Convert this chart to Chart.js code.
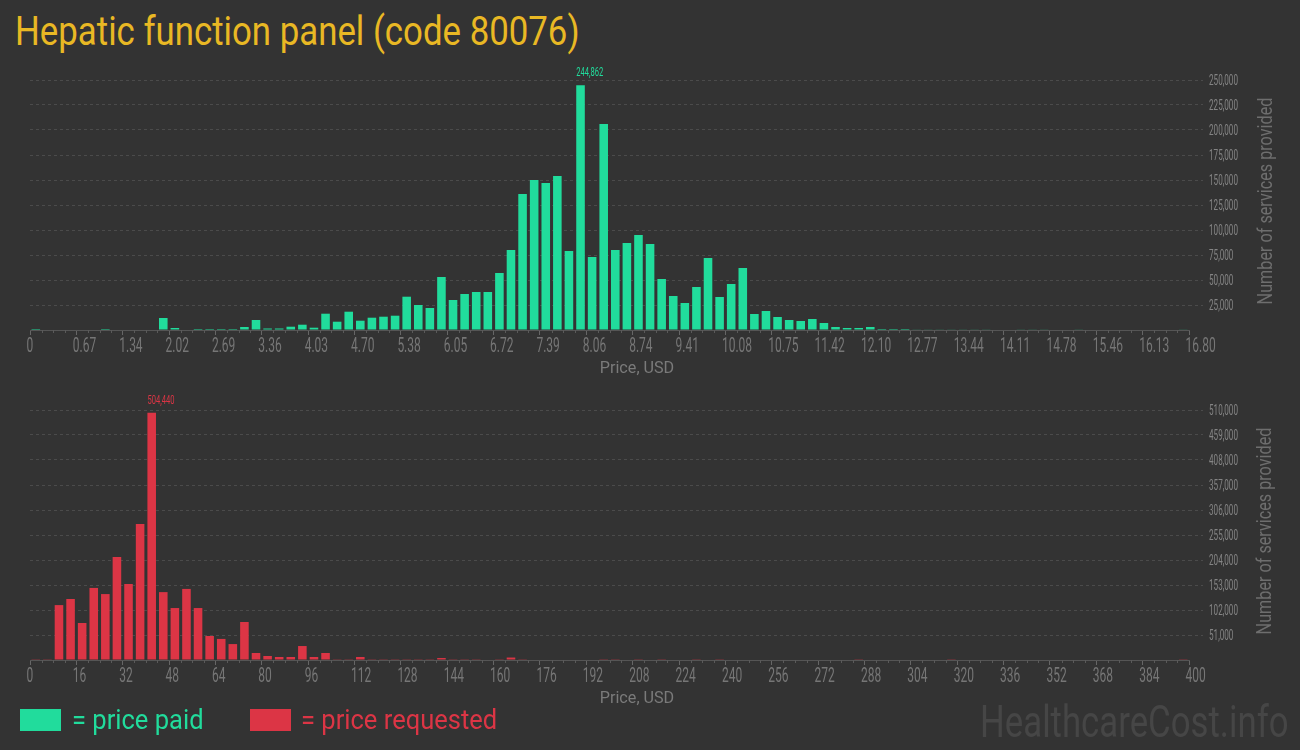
<!DOCTYPE html>
<html>
<head>
<meta charset="utf-8">
<script src="https://cdn.jsdelivr.net/npm/chart.js@4.4.1/dist/chart.umd.min.js"></script>
<style>
  html,body{margin:0;padding:0;background:#333333;}
  body{width:1300px;height:750px;overflow:hidden;position:relative;font-family:Roboto,"Noto Sans",sans-serif;}
  canvas{position:absolute;left:0;}
  .abs{position:absolute;white-space:nowrap;}
  #title{left:15px;top:8px;font-size:40px;color:#e9b824;transform:scaleX(0.87);transform-origin:0 0;}
  .xt{font-size:17px;color:#7a7a7a;transform:translateX(-50%) scaleX(0.95);}
  .yt{font-size:20px;color:#6e6e6e;transform:translate(-50%,-50%) rotate(-90deg) scaleX(0.81);}
  .sw{width:41px;height:22px;}
  .lg{font-size:27px;transform:scaleX(0.945);transform-origin:0 0;}
  #wm{left:980px;top:696px;font-size:44px;color:#464646;transform:scaleX(0.79);transform-origin:0 0;}
</style>
</head>
<body>
<div id="title" class="abs">Hepatic function panel (code 80076)</div>
<canvas id="c1" width="1300" height="320" style="top:60px"></canvas>
<canvas id="c2" width="1300" height="320" style="top:390px"></canvas>
<div class="abs xt" style="left:637px;top:357px">Price, USD</div>
<div class="abs xt" style="left:637px;top:687px">Price, USD</div>
<div class="abs yt" style="left:1265px;top:201px">Number of services provided</div>
<div class="abs yt" style="left:1264px;top:531px">Number of services provided</div>
<div class="abs sw" style="left:20px;top:709px;background:#21dc9c"></div>
<div class="abs lg" style="left:72px;top:704px;color:#21dc9c">= price paid</div>
<div class="abs sw" style="left:250px;top:709px;background:#dc3545"></div>
<div class="abs lg" style="left:301px;top:704px;color:#dc3545">= price requested</div>
<div id="wm" class="abs">HealthcareCost.info</div>
<script>
// ---------- data ----------
const paidBinWidth = 0.168;        // USD per bar
const requestedBinWidth = 4;       // USD per bar

const paidCounts = [
  1000, 0, 0, 0, 0, 0, 1000, 0, 0, 0,
  0, 12000, 2000, 0, 1000, 1000, 1000, 1000, 3000, 10000,
  1500, 1500, 3300, 5300, 2300, 16300, 8300, 18300, 9300, 12300,
  13300, 14300, 33300, 25000, 22000, 53000, 30000, 36000, 38000, 38000,
  57000, 80000, 136000, 150000, 147000, 154000, 79000, 244862, 73000, 206000,
  80000, 87000, 95000, 86000, 51000, 34000, 27000, 43000, 72000, 33000,
  46000, 62000, 16000, 19000, 13000, 10000, 9000, 11000, 7000, 3000,
  2000, 2000, 3000, 1000, 1000, 1000, 600, 600, 600, 600,
  600, 600, 600, 0, 0, 600, 600, 600, 0, 0,
  600, 0, 0, 0, 0, 0, 0, 0, 0, 600
];

const requestedCounts = [
  1500, 1500, 112000, 124500, 75500, 147000, 134500, 210000, 155000, 277500,
  504440, 138500, 106000, 145000, 106000, 49000, 43000, 32500, 77500, 14300,
  8200, 6100, 6100, 28500, 6100, 14300, 1500, 1500, 6100, 1500,
  1500, 1500, 1500, 1500, 1500, 4000, 1500, 1500, 1500, 0,
  1500, 5000, 1500, 0, 0, 0, 0, 0, 0, 1500,
  1500, 0, 1500, 0, 1500, 0, 0, 1500, 0, 1500,
  0, 0, 0, 0, 0, 0, 0, 0, 0, 0,
  0, 1500, 0, 0, 0, 0, 0, 0, 0, 1500,
  0, 0, 0, 0, 0, 0, 0, 0, 0, 0,
  0, 0, 0, 0, 0, 0, 0, 0, 0, 1500
];

const paidTickStep = 0.672;
const paidTickLabels = ["0","0.67","1.34","2.02","2.69","3.36","4.03","4.70","5.38","6.05","6.72","7.39","8.06","8.74","9.41","10.08","10.75","11.42","12.10","12.77","13.44","14.11","14.78","15.46","16.13","16.80"];

const requestedTickStep = 16;
const requestedTickLabels = ["0","16","32","48","64","80","96","112","128","144","160","176","192","208","224","240","256","272","288","304","320","336","352","368","384","400"];

const paidYMax = 250000, paidYStep = 25000;
const requestedYMax = 510000, requestedYStep = 51000;

// ---------- styling ----------
const FONT = "Roboto, 'Noto Sans', sans-serif";
const GRID = '#4b4b4b';

function narrowText(ctx, text, x, y, align, sx, size, color) {
  ctx.save();
  ctx.translate(x, y);
  ctx.scale(sx, 1);
  ctx.font = size + 'px ' + FONT;
  ctx.fillStyle = color;
  ctx.textAlign = align;
  ctx.textBaseline = 'alphabetic';
  ctx.fillText(text, 0, 0);
  ctx.restore();
}

const minorTicks = {
  id: 'minorTicks',
  afterDraw(chart) {
    const xs = chart.scales.x, ctx = chart.ctx;
    const n = chart.data.datasets[0].data.length;
    const bw = chart.options.plugins.minorTicks.binWidth;
    const y0 = chart.chartArea.bottom;
    ctx.save();
    ctx.strokeStyle = '#5a5a5a';
    ctx.lineWidth = 1;
    for (let i = 1; i < n; i++) {
      if (i % 4 === 0) continue;
      const px = Math.round(xs.getPixelForValue(i * bw)) + 0.5;
      ctx.beginPath(); ctx.moveTo(px, y0); ctx.lineTo(px, y0 + 3); ctx.stroke();
    }
    ctx.restore();
  }
};

// condensed tick labels, positioned from the library's scales
const narrowLabels = {
  id: 'narrowLabels',
  afterDraw(chart) {
    const ctx = chart.ctx;
    const xs = chart.scales.x, ys = chart.scales.y;
    const labels = chart.options.plugins.narrowLabels.xLabels;
    xs.ticks.forEach((t, i) => {
      narrowText(ctx, labels[i], xs.getPixelForValue(t.value) - 3.5, chart.chartArea.bottom + 22, 'left', 0.6, 20, '#767676');
    });
    ys.ticks.forEach(t => {
      if (t.value === 0) return;
      narrowText(ctx, t.value.toLocaleString('en-US'), chart.chartArea.right + 20, ys.getPixelForValue(t.value) + 5, 'left', 0.58, 14, '#858585');
    });
  }
};

const peakLabel = {
  id: 'peakLabel',
  afterDatasetsDraw(chart) {
    const meta = chart.getDatasetMeta(0);
    const vals = chart.data.datasets[0].data.map(d => d.y);
    let idx = 0;
    vals.forEach((v, i) => { if (v > vals[idx]) idx = i; });
    const el = meta.data[idx];
    narrowText(chart.ctx, vals[idx].toLocaleString('en-US'), el.x - el.width / 2, el.y - 9, 'left', 0.63, 12,
               chart.data.datasets[0].backgroundColor);
  }
};

function makeChart(id, counts, binWidth, color, tickLabels, tickStep, yMax, yStep) {
  const data = counts.map((v, i) => ({ x: (i + 0.5) * binWidth, y: v }));
  return new Chart(document.getElementById(id), {
    type: 'bar',
    data: { datasets: [{ data, backgroundColor: color, borderWidth: 0, barPercentage: 0.74, categoryPercentage: 1 }] },
    options: {
      responsive: false, animation: false, devicePixelRatio: 1,
      layout: { padding: { left: 30, right: 0, top: 20, bottom: 0 } },
      plugins: { legend: { display: false }, tooltip: { enabled: false },
                 minorTicks: { binWidth }, narrowLabels: { xLabels: tickLabels } },
      scales: {
        x: {
          type: 'linear', min: 0, max: binWidth * counts.length, offset: false,
          afterBuildTicks: s => { s.ticks = tickLabels.map((l, i) => ({ value: i * tickStep })); },
          afterFit: s => { s.height = 50; },
          ticks: { display: false, autoSkip: false, maxRotation: 0, minRotation: 0,
                   callback: (v, i) => tickLabels[i] },
          grid: { offset: false, drawOnChartArea: false, tickLength: 5, tickColor: '#666', color: '#666' },
          border: { color: '#555', width: 1 }
        },
        y: {
          position: 'right', min: 0, max: yMax,
          ticks: { display: false, stepSize: yStep,
                   callback: v => v === 0 ? '' : v.toLocaleString('en-US') },
          afterFit: s => { s.width = 111; },
          grid: {
            color: c => (c.tick && c.tick.value === 0) ? 'rgba(0,0,0,0)' : GRID,
            tickColor: c => (c.tick && c.tick.value === 0) ? 'rgba(0,0,0,0)' : GRID,
            tickLength: 14, tickBorderDash: [3, 3]
          },
          border: { display: false, dash: [3, 3] }
        }
      }
    },
    plugins: [minorTicks, narrowLabels, peakLabel]
  });
}

makeChart('c1', paidCounts, paidBinWidth, '#21dc9c', paidTickLabels, paidTickStep, paidYMax, paidYStep);
makeChart('c2', requestedCounts, requestedBinWidth, '#dc3545', requestedTickLabels, requestedTickStep, requestedYMax, requestedYStep);
</script>
</body>
</html>
